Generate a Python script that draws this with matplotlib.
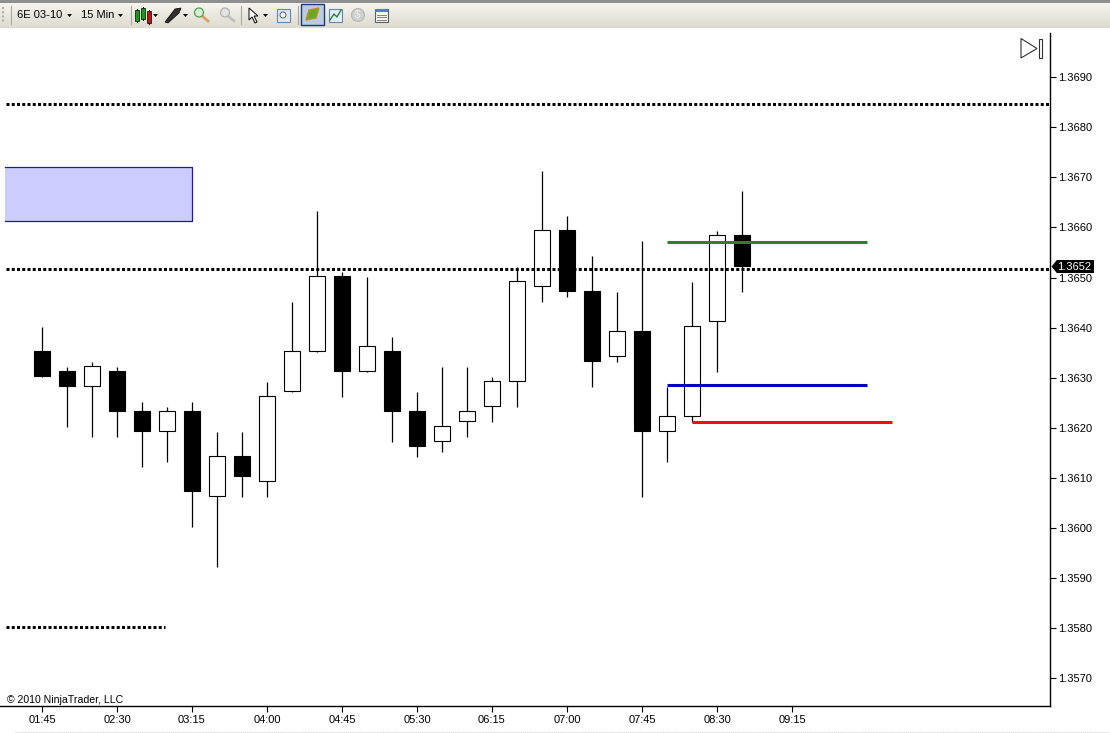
import matplotlib
matplotlib.use("Agg")
import matplotlib.pyplot as plt
from matplotlib.patches import Polygon, Rectangle
import numpy as np

plt.rcParams['font.family'] = ['Liberation Sans', 'DejaVu Sans']

# ================================= Data =================================
opens = [1.3635, 1.3631, 1.3628, 1.3631, 1.3623, 1.3619, 1.3623, 1.3606, 1.3614, 1.3609,
         1.3627, 1.3635, 1.3650, 1.3631, 1.3635, 1.3623, 1.3617, 1.3621, 1.3624, 1.3629,
         1.3648, 1.3659, 1.3647, 1.3634, 1.3639, 1.3619, 1.3622, 1.3641, 1.3658]
closes = [1.3630, 1.3628, 1.3632, 1.3623, 1.3619, 1.3623, 1.3607, 1.3614, 1.3610, 1.3626,
          1.3635, 1.3650, 1.3631, 1.3636, 1.3623, 1.3616, 1.3620, 1.3623, 1.3629, 1.3649,
          1.3659, 1.3647, 1.3633, 1.3639, 1.3619, 1.3622, 1.3640, 1.3658, 1.3652]
highs = [1.3640, 1.3632, 1.3633, 1.3632, 1.3625, 1.3624, 1.3625, 1.3619, 1.3619, 1.3629,
         1.3645, 1.3663, 1.3651, 1.3650, 1.3638, 1.3627, 1.3632, 1.3632, 1.3630, 1.3652,
         1.3671, 1.3662, 1.3654, 1.3647, 1.3657, 1.3628, 1.3649, 1.3659, 1.3667]
lows = [1.3630, 1.3620, 1.3618, 1.3618, 1.3612, 1.3613, 1.3600, 1.3592, 1.3606, 1.3606,
        1.3627, 1.3635, 1.3626, 1.3631, 1.3617, 1.3614, 1.3615, 1.3618, 1.3621, 1.3624,
        1.3645, 1.3646, 1.3628, 1.3633, 1.3606, 1.3613, 1.3621, 1.3631, 1.3647]

time_labels = ["01:45", "02:30", "03:15", "04:00", "04:45", "05:30", "06:15", "07:00", "07:45", "08:30", "09:15"]
time_pos = [0, 3, 6, 9, 12, 15, 18, 21, 24, 27, 30]
price_ticks = [1.3690, 1.3680, 1.3670, 1.3660, 1.3650, 1.3640, 1.3630, 1.3620, 1.3610, 1.3600, 1.3590, 1.3580, 1.3570]

last_price = 1.3652
dot_levels = [1.36846, 1.36517, 1.35802]
dot_starts = [-1.44, -1.44, -1.44]
dot_ends = [40.28, 40.28, 4.92]
zone_x = [-1.48, 6.0]
zone_y = [1.36612, 1.3672]
seg_levels = [1.3657, 1.36285, 1.36211]
seg_starts = [25.0, 25.0, 26.0]
seg_ends = [33.0, 33.0, 34.0]
seg_colors = ['#2a8228', '#0000c8', '#e81010']

# candles sit slightly above the tick marks in the screenshot
body_shift = 0.00004
wick_shift = 0.00002

# ================================= Figure =================================
W, H = 1110, 733
fig = plt.figure(figsize=(W / 100, H / 100), dpi=100, facecolor='white')
ax = fig.add_axes([0, (H - 706) / H, 1050 / W, 673 / H])
ax.set_xlim(-1.68, 40.32)
ax.set_ylim(1.35645, 1.36988)

# zone, no border on its left side
ax.fill_between(zone_x, zone_y[0], zone_y[1], facecolor='#ccccff', edgecolor='none', zorder=1)
ax.plot([zone_x[0], zone_x[1], zone_x[1], zone_x[0]], [zone_y[1], zone_y[1], zone_y[0], zone_y[0]],
        color='#1c1c9c', linewidth=0.9, zorder=2)

# candles
x = np.arange(len(opens))
for i in x:
    up = closes[i] >= opens[i]
    ax.vlines(i, lows[i] + wick_shift, highs[i] + wick_shift, color='black', linewidth=0.9, zorder=2)
    ax.bar(i, abs(closes[i] - opens[i]), bottom=min(opens[i], closes[i]) + body_shift, width=0.62,
           facecolor='white' if up else 'black', edgecolor='black', linewidth=0.8, zorder=3)

# dotted levels
for lev, a, b in zip(dot_levels, dot_starts, dot_ends):
    ax.plot([a, b], [lev, lev], color='black', linewidth=2.16, linestyle=(0, (1, 0.75)),
            dash_capstyle='butt', zorder=4)

# trade lines
for lev, a, b, c in zip(seg_levels, seg_starts, seg_ends, seg_colors):
    ax.plot([a, b], [lev, lev], color=c, linewidth=2.2, solid_capstyle='butt', zorder=5)

# axes
for s in ['top', 'left']:
    ax.spines[s].set_visible(False)
for s in ['right', 'bottom']:
    ax.spines[s].set_linewidth(1.0)
ax.yaxis.tick_right()
ax.set_yticks(price_ticks)
ax.set_yticklabels([f"{p:.4f}" for p in price_ticks])
ax.set_xticks(time_pos)
ax.set_xticklabels(time_labels)
ax.tick_params(axis='y', length=4.5, width=0.8, labelsize=8, pad=1, colors='black')
ax.tick_params(axis='x', length=4.5, width=0.8, labelsize=8, pad=2, colors='black')

ax.text(0.0062, 0.009, "© 2010 NinjaTrader, LLC", transform=ax.transAxes, fontsize=7.6, va='center', ha='left')

# last price tag
tag = ax.get_yaxis_transform()
tag_y = last_price + 0.00002
ax.text(1.0072, tag_y, f"{last_price:.4f}", transform=tag, color='white', fontsize=8, va='center', ha='left',
        zorder=11, clip_on=False)
ax.add_patch(Polygon([(1.0015, tag_y), (1.0065, tag_y + 0.00013), (1.0419, tag_y + 0.00013),
                      (1.0419, tag_y - 0.00013), (1.0065, tag_y - 0.00013)],
                     closed=True, transform=tag, facecolor='black', edgecolor='none', zorder=10, clip_on=False))

# ================================= Toolbar (pixel overlay) =================================
ov = fig.add_axes([0, 0, 1, 1], facecolor='none')
ov.set_xlim(0, W)
ov.set_ylim(H, 0)
ov.axis('off')
ov.add_patch(Rectangle((0, 0), W, 3, facecolor='#8f8f8f', edgecolor='none'))
grad = np.linspace(0, 1, 26)[:, None]
ov.imshow(grad, extent=(0, W, 28, 3), cmap=matplotlib.colors.LinearSegmentedColormap.from_list('tb', ['#f4f3ee', '#dedbd0']),
          aspect='auto', zorder=1)
ov.set_xlim(0, W)
ov.set_ylim(H, 0)
ov.text(17, 15.5, "6E 03-10", fontsize=8, va='center', ha='left', zorder=3)
ov.text(81, 15.5, "15 Min", fontsize=8, va='center', ha='left', zorder=3)

# window edge at the very bottom
ov.plot([15, W], [731.5, 731.5], color='#cfcfc8', linewidth=0.7, linestyle=(0, (1, 1)), zorder=3)


def arrow(px):
    ov.add_patch(Polygon([(px, 14), (px + 5, 14), (px + 2.5, 17)], facecolor='black', zorder=3))


def sep(px):
    ov.plot([px, px], [6, 24], color='#a8a8a0', linewidth=0.8, zorder=3)


for px in [11, 131, 241, 298]:
    sep(px)
for px in [67, 118, 153, 183, 263]:
    arrow(px)
ov.plot([3, 3], [7, 23], color='#b0b0a8', linewidth=1.5, linestyle=(0, (1, 1)), zorder=3)

# candle icon
for px, top, bot, c in [(137, 10, 21, '#10a010'), (143, 8, 19, '#10a010'), (149, 11, 23, '#c81010')]:
    ov.plot([px, px], [top - 1, bot + 1], color='black', linewidth=0.7, zorder=3)
    ov.add_patch(Rectangle((px - 1.7, top), 3.4, bot - top, facecolor=c, edgecolor='black', linewidth=0.5, zorder=4))
# pencil icon
ov.add_patch(Polygon([(165, 22), (175, 9), (181, 8), (179, 13), (168, 23)], facecolor='#303030', edgecolor='black',
                     linewidth=0.5, zorder=3))
# zoom in and out icons
for px, c, e in [(199, '#d8ecd8', '#50a050'), (225, '#e2e2e2', '#b0b0b0')]:
    ov.plot([px + 3, px + 9], [16, 21], color='#e0a060' if px < 210 else '#c0c0c0', linewidth=2, zorder=3)
    ov.add_patch(plt.Circle((px, 12.5), 4.5, facecolor=c, edgecolor=e, linewidth=0.9, zorder=4))
# pointer icon
ov.add_patch(Polygon([(249, 8), (249, 20), (252, 17), (255, 23), (257, 22), (254, 16), (258, 16)], facecolor='white',
                     edgecolor='black', linewidth=0.7, zorder=3))
# small window icons
ov.add_patch(Rectangle((277, 9), 13, 13, facecolor='#dce8f4', edgecolor='#6088b0', linewidth=0.8, zorder=3))
ov.add_patch(plt.Circle((283, 15), 3, facecolor='#f0f0f0', edgecolor='#606060', linewidth=0.7, zorder=4))
ov.add_patch(Rectangle((301, 4), 23, 21, facecolor='#bccbe2', edgecolor='#1c3c6c', linewidth=1, zorder=3))
ov.add_patch(Polygon([(306, 20), (309, 10), (319, 8), (316, 18)], facecolor='#68a828', edgecolor='#c09020',
                     linewidth=1, zorder=4))
ov.add_patch(Rectangle((329, 9), 13, 13, facecolor='#e4eef8', edgecolor='#6088b0', linewidth=0.8, zorder=3))
ov.plot([330, 334, 337, 341], [20, 14, 17, 10], color='#208040', linewidth=1, zorder=4)
ov.add_patch(plt.Circle((358, 15), 6.5, facecolor='#cfcfcf', edgecolor='#b8b8b8', linewidth=0.8, zorder=3))
ov.text(358, 15, "$", fontsize=7, color='#f0f0f0', ha='center', va='center', zorder=4)
ov.add_patch(Rectangle((375, 9), 13, 13, facecolor='#f4f4ea', edgecolor='#506070', linewidth=0.8, zorder=3))
ov.add_patch(Rectangle((375, 9), 13, 3, facecolor='#5080c0', edgecolor='none', zorder=4))
for yy in [14.5, 17, 19.5]:
    ov.plot([377, 386], [yy, yy], color='#707070', linewidth=0.6, zorder=4)

# skip-to-end button
ov.add_patch(Polygon([(1021, 38.5), (1021, 58), (1037, 48.5)], facecolor='white', edgecolor='#303030', linewidth=0.8, zorder=3))
ov.add_patch(Rectangle((1038.5, 38.5), 3, 19.5, facecolor='white', edgecolor='#303030', linewidth=0.8, zorder=3))

fig.savefig("out.png", dpi=100)
